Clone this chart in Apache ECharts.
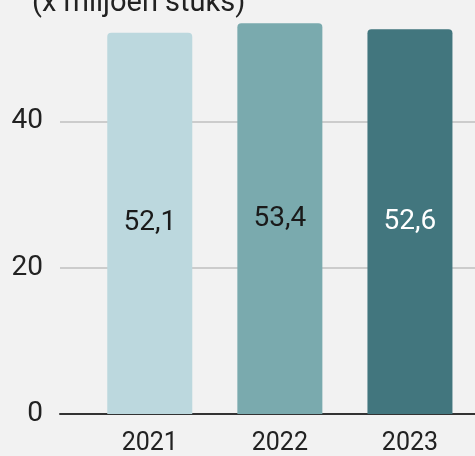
<!DOCTYPE html>
<html>
<head>
<meta charset="utf-8">
<script src="https://cdn.jsdelivr.net/npm/echarts@6/dist/echarts.min.js"></script>
<style>
  html, body { margin: 0; padding: 0; background: #f2f2f2; overflow: hidden; }
  /* chart is taller than the window; its top is cut off like in the reference */
  #main { width: 475px; height: 496px; margin-top: -40px; }
</style>
</head>
<body>
<div id="main"></div>
<script>
// gegevens
var years = ['2021', '2022', '2023'];
var values = [52.1, 53.4, 52.6];
var barColors = ['#bcd8de', '#7aaaae', '#42767e'];
var labelColors = ['#1a1a1a', '#1a1a1a', '#ffffff'];
var yTicks = [0, 20, 40, 60];

var chart = echarts.init(document.getElementById('main'));

var barData = values.map(function (v, i) {
  return {
    value: [i, v],
    itemStyle: { color: barColors[i], borderRadius: [4, 4, 0, 0] },
    label: { color: labelColors[i] }
  };
});

chart.setOption({
  backgroundColor: '#f2f2f2',
  textStyle: { fontFamily: 'Roboto' },
  title: {
    text: '(x miljoen stuks)',
    left: 27,
    top: 24,
    textStyle: { fontSize: 29, fontWeight: 'normal', color: '#222', fontFamily: 'Roboto' }
  },
  grid: { left: 60, right: 0, top: 15, bottom: 37, containLabel: false },
  xAxis: {
    type: 'value',
    min: -0.69,
    max: 2.5,
    splitLine: { show: false },
    axisTick: { show: false },
    axisLine: { show: true, onZero: false, lineStyle: { color: '#333', width: 2 } },
    axisLabel: {
      customValues: [0, 1, 2],
      formatter: function (v) { return years[Math.round(v)]; },
      fontSize: 25,
      color: '#222',
      margin: 17
    }
  },
  yAxis: {
    type: 'value',
    min: yTicks[0],
    max: yTicks[yTicks.length - 1],
    interval: 20,
    axisLine: { show: false },
    axisTick: { show: false },
    splitLine: { lineStyle: { color: '#cccccc', width: 2 } },
    axisLabel: { fontSize: 28, color: '#222', margin: 17 }
  },
  series: [{
    type: 'bar',
    barWidth: 85,
    data: barData,
    label: {
      show: true,
      position: 'inside',
      fontSize: 28,
      formatter: function (p) { return p.value[1].toFixed(1).replace('.', ','); }
    }
  }]
});
</script>
</body>
</html>
